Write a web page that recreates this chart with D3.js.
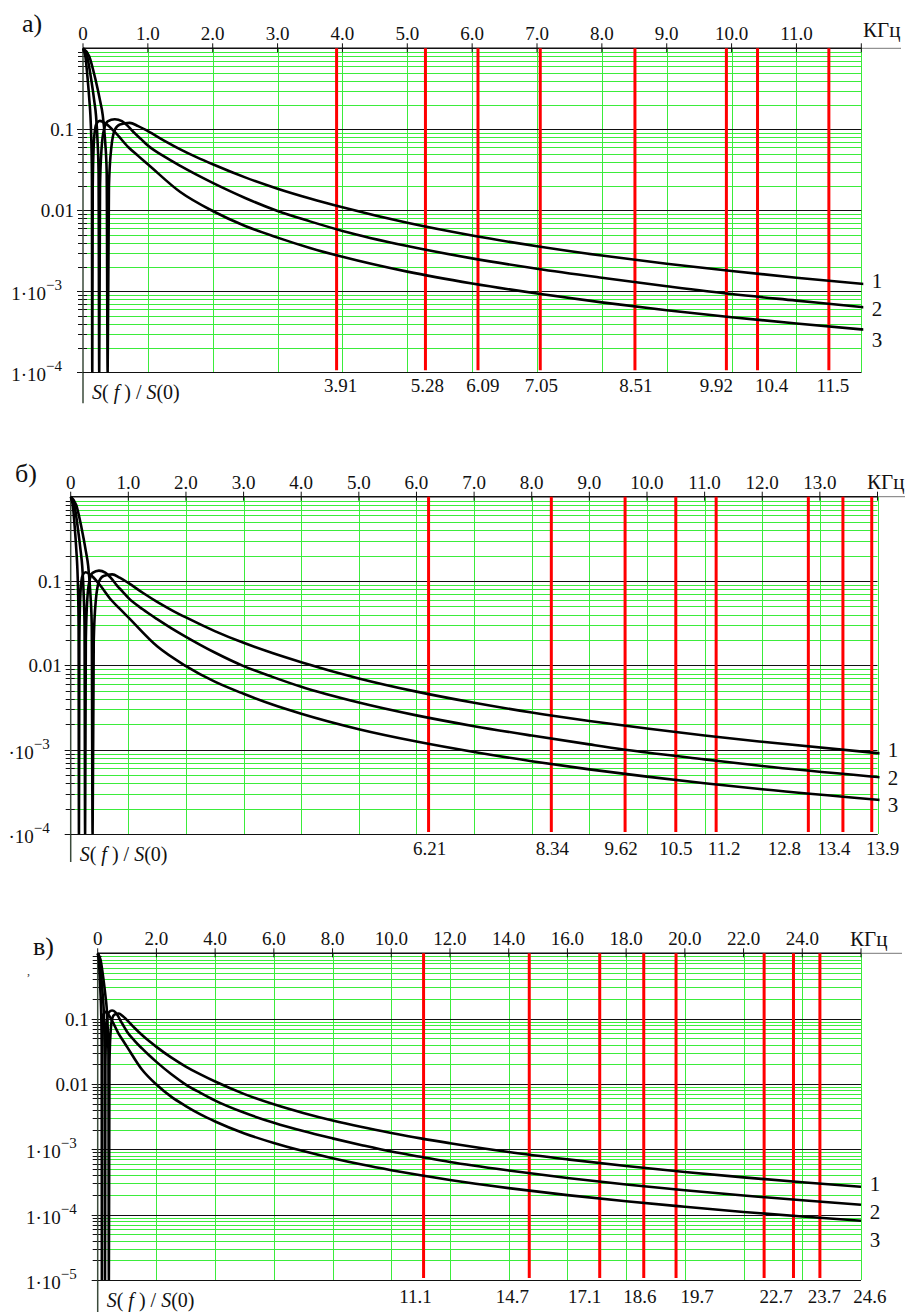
<!DOCTYPE html>
<html>
<head>
<meta charset="utf-8">
<script src="https://cdn.jsdelivr.net/npm/d3@7"></script>
<style>
  body { margin: 0; background: #fff; }
  svg { display: block; }
</style>
</head>
<body>
<svg id="chart" width="912" height="1312"></svg>
<script>
// Normalised spectra S(f)/S(0) of the three signals (frequency in kHz)
const curve1F = [0, 0.095, 0.19, 0.266, 0.304, 0.342, 0.365, 0.38, 0.40, 0.437, 0.494, 0.57, 0.72, 0.85, 1, 1.25, 1.5, 1.75, 2, 2.5, 3, 3.5, 4, 5, 6, 7, 8, 9, 10, 11, 12, 14, 16, 18, 20, 22, 24, 26];
const curve1V = [1, 0.8, 0.42, 0.22, 0.15, 0.07, 0.03, 0, 0.02, 0.06, 0.1, 0.115, 0.12, 0.1096, 0.095, 0.0726, 0.0566, 0.0453, 0.037, 0.0255, 0.0185, 0.0140, 0.0109, 0.0070, 0.00488, 0.0036, 0.00276, 0.00219, 0.00178, 0.00147, 0.00124, 0.00091, 0.000702, 0.000555, 0.00045, 0.000372, 0.000313, 0.000267];

const curve2F = [0, 0.0625, 0.125, 0.175, 0.2, 0.225, 0.24, 0.25, 0.2625, 0.2875, 0.325, 0.38, 0.49, 0.6, 0.7, 0.8, 0.9, 1, 1.25, 1.5, 1.75, 2, 2.5, 3, 3.5, 4, 5, 6, 7, 8, 9, 10, 11, 12, 14, 16, 18, 20, 22, 24, 26];
const curve2V = [1, 0.8, 0.42, 0.22, 0.15, 0.07, 0.03, 0, 0.02, 0.06, 0.1, 0.125, 0.133, 0.126, 0.108, 0.089, 0.075, 0.063, 0.0462, 0.0353, 0.0275, 0.0218, 0.0142, 0.0098, 0.0073, 0.00557, 0.00362, 0.00255, 0.0019, 0.00147, 0.001156, 0.000924, 0.000768, 0.00064, 0.000474, 0.000365, 0.00029, 0.000236, 0.000196, 0.000166, 0.000142];

const curve3F = [0, 0.036, 0.0715, 0.1, 0.114, 0.129, 0.137, 0.143, 0.15, 0.164, 0.186, 0.215, 0.26, 0.35, 0.5, 0.7, 0.85, 1, 1.5, 2, 2.5, 3, 3.5, 4, 5, 6, 7, 8, 9, 10, 11, 12, 14, 16, 18, 20, 22, 24, 26];
const curve3V = [1, 0.8, 0.42, 0.22, 0.15, 0.07, 0.03, 0, 0.02, 0.06, 0.1, 0.12, 0.127, 0.1175, 0.091, 0.060, 0.047, 0.037, 0.0168, 0.0098, 0.0064, 0.0046, 0.00343, 0.00267, 0.00175, 0.00125, 0.00094, 0.00073, 0.000584, 0.000479, 0.0004, 0.000339, 0.000255, 0.000199, 0.00016, 0.000132, 0.00011, 0.0000935, 0.0000805];

// Marker frequencies (kHz) for each panel
const markersA = [3.91, 5.28, 6.09, 7.05, 8.51, 9.92, 10.4, 11.5];
const markersB = [6.21, 8.34, 9.62, 10.5, 11.2, 12.8, 13.4, 13.9];
const markersC = [11.1, 14.7, 17.1, 18.6, 19.7, 22.7, 23.7, 24.6];

// Frequency tick values along the top axis
const freqTicksA = d3.range(0, 13, 1);
const freqTicksB = d3.range(0, 15, 1);
const freqTicksC = d3.range(0, 27, 2);

// Level tick labels
const levelsA = [0.1, 0.01, 1e-3, 1e-4];
const levelLabelsA = [["0.1"], ["0.01"], ["1\u00b710", "\u22123"], ["1\u00b710", "\u22124"]];
const levelsB = [0.1, 0.01, 1e-3, 1e-4];
const levelLabelsB = [["0.1"], ["0.01"], ["\u00b710", "\u22123"], ["\u00b710", "\u22124"]];
const levelsC = [0.1, 0.01, 1e-3, 1e-4, 1e-5];
const levelLabelsC = [["0.1"], ["0.01"], ["1\u00b710", "\u22123"], ["1\u00b710", "\u22124"], ["1\u00b710", "\u22125"]];

const curveNames = ["1", "2", "3"];

const curves = [
  d3.zip(curve1F, curve1V),
  d3.zip(curve2F, curve2V),
  d3.zip(curve3F, curve3V)
];

const FONT = "'Liberation Serif', 'DejaVu Serif', 'Times New Roman', serif";

const panels = [
  {
    letter: "\u0430)", letterX: 22, letterY: 32,
    fMax: 12, xRange: [83, 861.3], yMin: 1e-4, yRange: [372.3, 48.3],
    ticks: freqTicksA, markers: markersA, levels: levelsA, levelLabels: levelLabelsA,
    markerLabelDx: [4, 2, 5, 1, 1, -10, 14, 4], markerLabelY: 392,
    axisTail: 31, lineExtend: 901, unitX: 863, unitY: 37, tickLabelY: 40,
    nameX: 877, nameY: [288, 316, 347]
  },
  {
    letter: "\u0431)", letterX: 15, letterY: 482,
    fMax: 14, xRange: [70.7, 877.5], yMin: 1e-4, yRange: [834, 496.7],
    ticks: freqTicksB, markers: markersB, levels: levelsB, levelLabels: levelLabelsB,
    markerLabelDx: [1, 1, -4, 0, 8, -24, -9, 11], markerLabelY: 855,
    axisTail: 28, lineExtend: 905, unitX: 867, unitY: 489, tickLabelY: 489,
    nameX: 893, nameY: [757, 785, 812]
  },
  {
    letter: "\u0432)", letterX: 33, letterY: 955,
    fMax: 26, xRange: [97.7, 861], yMin: 1e-5, yRange: [1280, 953.3],
    ticks: freqTicksC, markers: markersC, levels: levelsC, levelLabels: levelLabelsC,
    markerLabelDx: [-8, -17, -15, -4, 21, 12, 31, 50], markerLabelY: 1303,
    axisTail: 40, lineExtend: 902, unitX: 850, unitY: 946, tickLabelY: 945,
    nameX: 875, nameY: [1191, 1219, 1247]
  }
];

const svg = d3.select("#chart").attr("font-family", FONT);
const GREEN = "#3bec3b";

panels.forEach((p, pi) => {
  const x = d3.scaleLinear().domain([0, p.fMax]).range(p.xRange);
  const y = d3.scaleLog().domain([p.yMin, 1]).range(p.yRange);
  const g = svg.append("g");
  const [x0, x1] = p.xRange;
  const [yb, yt] = p.yRange;
  const txt = sel => sel.attr("font-family", FONT).attr("fill", "#111");

  // minor level grid (2..9 within each decade)
  const minor = [];
  for (let e = Math.round(Math.log10(p.yMin)); e < 0; e++) {
    for (let k = 2; k <= 9; k++) minor.push(k * Math.pow(10, e));
  }
  g.selectAll(".hminor").data(minor).join("line")
    .attr("x1", x0).attr("x2", x1)
    .attr("y1", d => Math.round(y(d)) + 0.5).attr("y2", d => Math.round(y(d)) + 0.5)
    .attr("stroke", GREEN).attr("stroke-width", 1);

  // frequency grid
  g.selectAll(".vgrid").data(p.ticks.filter(d => d > 0)).join("line")
    .attr("x1", d => Math.round(x(d)) + 0.5).attr("x2", d => Math.round(x(d)) + 0.5)
    .attr("y1", yt).attr("y2", yb)
    .attr("stroke", GREEN).attr("stroke-width", 1);

  // decade lines
  g.selectAll(".hmajor").data(p.levels).join("line")
    .attr("x1", x0 - 6).attr("x2", x1)
    .attr("y1", d => Math.round(y(d)) + 0.5).attr("y2", d => Math.round(y(d)) + 0.5)
    .attr("stroke", "#111").attr("stroke-width", 1);

  // level tick marks on the left axis
  g.selectAll(".ytick").data(minor).join("line")
    .attr("x1", x0 - 5).attr("x2", x0 + 4)
    .attr("y1", d => Math.round(y(d)) + 0.5).attr("y2", d => Math.round(y(d)) + 0.5)
    .attr("stroke", "#111").attr("stroke-width", 1);

  // left axis line
  g.append("line")
    .attr("x1", x0).attr("x2", x0).attr("y1", yt).attr("y2", yb + p.axisTail)
    .attr("stroke", "#3a4a3a").attr("stroke-width", 1.5);

  // top axis line and ticks
  g.append("line")
    .attr("x1", x0).attr("x2", x1).attr("y1", yt).attr("y2", yt)
    .attr("stroke", "#111").attr("stroke-width", 1.5);
  g.append("line")
    .attr("x1", x1).attr("x2", p.lineExtend).attr("y1", yt).attr("y2", yt)
    .attr("stroke", "#777").attr("stroke-width", 1);
  g.selectAll(".xtick").data(p.ticks).join("line")
    .attr("x1", d => x(d)).attr("x2", d => x(d))
    .attr("y1", yt - 5).attr("y2", yt + 4)
    .attr("stroke", "#111").attr("stroke-width", 1);
  g.selectAll(".xlabel").data(p.ticks.filter(d => d < p.fMax)).join("text")
    .call(txt)
    .attr("x", d => x(d)).attr("y", p.tickLabelY)
    .attr("text-anchor", "middle").attr("font-size", 19)
    .text(d => d === 0 ? "0" : d.toFixed(1));
  g.append("text").call(txt).attr("x", p.unitX).attr("y", p.unitY)
    .attr("font-size", 21).text("\u041a\u0413\u0446");

  // level labels
  p.levels.forEach((v, i) => {
    const lab = p.levelLabels[i];
    const yy = y(v);
    if (lab.length === 1) {
      g.append("text").call(txt).attr("x", x0 - 9).attr("y", yy + 7)
        .attr("text-anchor", "end").attr("font-size", 19).text(lab[0]);
    } else {
      const t = g.append("text").call(txt).attr("x", x0 - 21).attr("y", yy + 9)
        .attr("text-anchor", "end").attr("font-size", 19);
      t.append("tspan").text(lab[0]);
      t.append("tspan").attr("dy", -10).attr("font-size", 15).text(lab[1]);
    }
  });

  // bottom line
  g.append("line")
    .attr("x1", x0).attr("x2", x1).attr("y1", Math.round(yb) + 0.5).attr("y2", Math.round(yb) + 0.5)
    .attr("stroke", "#111").attr("stroke-width", 1);

  // marker lines
  g.selectAll(".marker").data(p.markers).join("line")
    .attr("x1", d => x(d)).attr("x2", d => x(d))
    .attr("y1", yt).attr("y2", yb - 2)
    .attr("stroke", "#ff0000").attr("stroke-width", 3);
  g.selectAll(".mlabel").data(p.markers).join("text")
    .call(txt)
    .attr("x", (d, i) => x(d) + p.markerLabelDx[i]).attr("y", p.markerLabelY)
    .attr("text-anchor", "middle").attr("font-size", 19)
    .text(d => String(d));

  // spectra
  const clipId = "clip" + pi;
  svg.append("clipPath").attr("id", clipId).append("rect")
    .attr("x", x0 - 2).attr("y", yt - 2).attr("width", x1 - x0 + 4).attr("height", yb - yt + 2);
  const line = d3.line()
    .x(d => x(d[0]))
    .y(d => y(Math.max(d[1], p.yMin)))
    .curve(d3.curveMonotoneX);
  g.append("g").attr("clip-path", `url(#${clipId})`)
    .selectAll("path").data(curves).join("path")
    .attr("d", line)
    .attr("fill", "none").attr("stroke", "#000").attr("stroke-width", 2.6)
    .attr("stroke-linejoin", "round");

  // curve numbers
  g.selectAll(".cname").data(curveNames).join("text")
    .call(txt)
    .attr("x", p.nameX).attr("y", (d, i) => p.nameY[i])
    .attr("text-anchor", "middle").attr("font-size", 21).text(d => d);

  // axis caption
  const cap = g.append("text").call(txt).attr("x", x0 + 9).attr("y", yb + 27).attr("font-size", 20);
  cap.append("tspan").attr("font-style", "italic").text("S");
  cap.append("tspan").text("(");
  cap.append("tspan").attr("font-style", "italic").text(" f ");
  cap.append("tspan").text(") / ");
  cap.append("tspan").attr("font-style", "italic").text("S");
  cap.append("tspan").text("(0)");

  // panel letter
  g.append("text").call(txt).attr("x", p.letterX).attr("y", p.letterY)
    .attr("font-size", 26).text(p.letter);
});

// small stray mark left of the third panel
svg.append("text").attr("font-family", FONT).attr("fill", "#333")
  .attr("x", 27).attr("y", 975).attr("font-size", 12).text(",");
</script>
</body>
</html>
